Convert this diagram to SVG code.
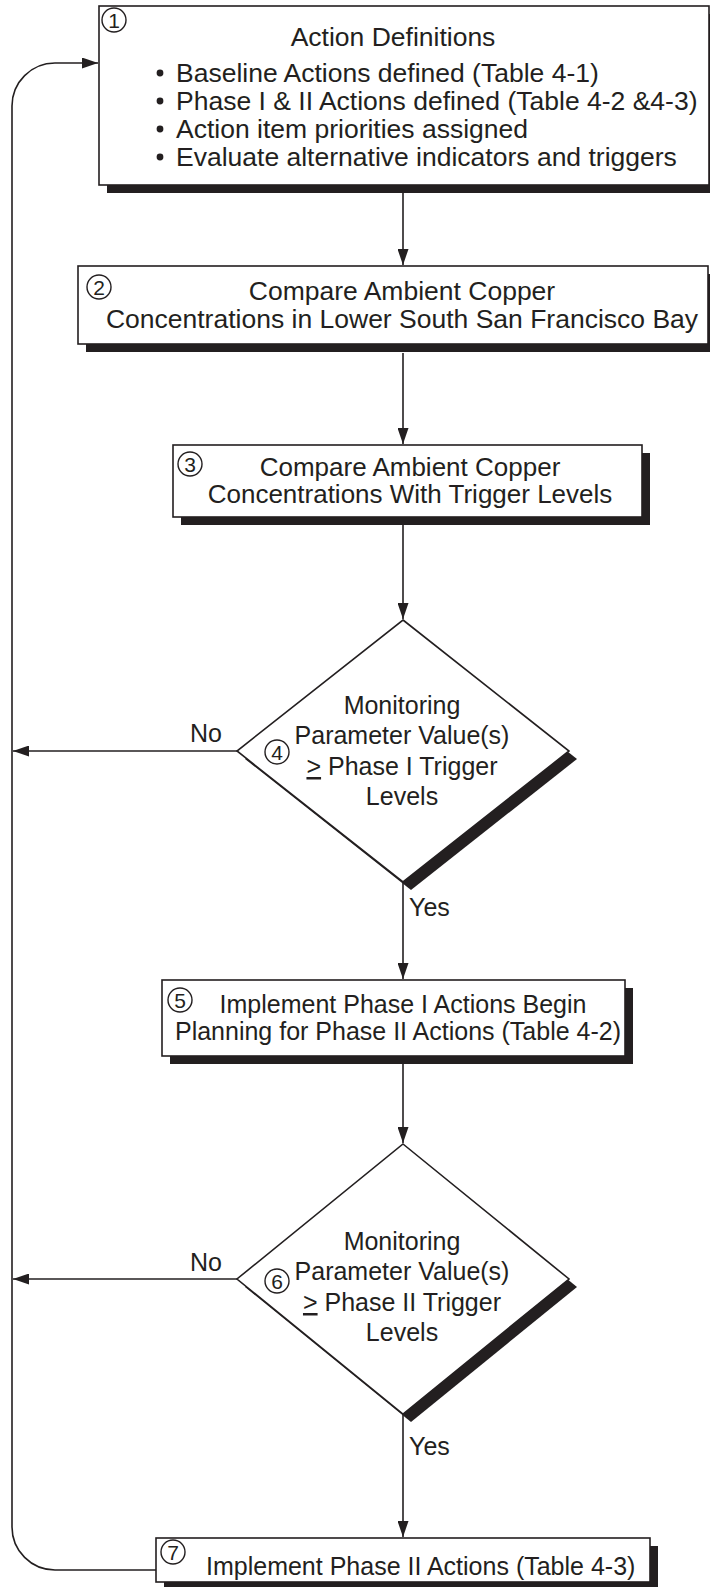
<svg xmlns="http://www.w3.org/2000/svg" width="710" height="1587" viewBox="0 0 710 1587">
<defs>
<style>
.box{fill:#fff;stroke:#231f20;stroke-width:1.6}
.sh{fill:#231f20}
.ln{fill:none;stroke:#231f20;stroke-width:1.6}
.t{font-family:"Liberation Sans",Arial,sans-serif;font-size:25px;fill:#231f20}
.tl{font-size:26.5px}
.tm{font-size:26px}
.c{text-anchor:middle}
.num{font-family:"Liberation Sans",Arial,sans-serif;font-size:21px;fill:#231f20;text-anchor:middle}
.circ{fill:none;stroke:#231f20;stroke-width:1.4}
.dot{fill:#231f20}
</style>
<marker id="ah" markerUnits="userSpaceOnUse" markerWidth="16" markerHeight="11" refX="16" refY="5.5" orient="auto">
<path d="M0,0 L16,5.5 L0,11 z" fill="#231f20"/>
</marker>
</defs>
<rect width="710" height="1587" fill="#fff"/>

<g id="connectors">
<path class="ln" d="M403 193 V265" marker-end="url(#ah)"/>
<path class="ln" d="M403 353 V444" marker-end="url(#ah)"/>
<path class="ln" d="M403 525 V619" marker-end="url(#ah)"/>
<path class="ln" d="M237 751 H13" marker-end="url(#ah)"/>
<path class="ln" d="M403 882 V979" marker-end="url(#ah)"/>
<path class="ln" d="M403 1064 V1143" marker-end="url(#ah)"/>
<path class="ln" d="M237 1279 H13" marker-end="url(#ah)"/>
<path class="ln" d="M403 1414 V1537" marker-end="url(#ah)"/>
<path class="ln" d="M156 1570 H55 A43 43 0 0 1 12 1527 V106 A43 43 0 0 1 55 63 H98" marker-end="url(#ah)"/>
<text class="t" x="190" y="742">No</text>
<text class="t" x="409" y="916">Yes</text>
<text class="t" x="190" y="1271">No</text>
<text class="t" x="409" y="1455">Yes</text>
</g>

<g id="node1">
<rect class="sh" x="107" y="14" width="610" height="179"/>
<rect class="box" x="99" y="6" width="610" height="179"/>
<circle class="circ" cx="114" cy="20" r="12"/>
<text class="num" x="114" y="27.5">1</text>
<text class="t tl c" x="393" y="46">Action Definitions</text>
<circle class="dot" cx="160" cy="73" r="3.4"/>
<text class="t tl" x="176" y="82">Baseline Actions defined (Table 4-1)</text>
<circle class="dot" cx="160" cy="101" r="3.4"/>
<text class="t tl" x="176" y="110">Phase I &amp; II Actions defined (Table 4-2 &amp;4-3)</text>
<circle class="dot" cx="160" cy="129" r="3.4"/>
<text class="t tl" x="176" y="138">Action item priorities assigned</text>
<circle class="dot" cx="160" cy="157" r="3.4"/>
<text class="t tl" x="176" y="166">Evaluate alternative indicators and triggers</text>
</g>

<g id="node2">
<rect class="sh" x="86" y="274" width="630" height="78"/>
<rect class="box" x="78" y="266" width="630" height="78"/>
<circle class="circ" cx="99" cy="287" r="12"/>
<text class="num" x="99" y="294.5">2</text>
<text class="t tl c" x="402" y="300">Compare Ambient Copper</text>
<text class="t tl c" x="402" y="328">Concentrations in Lower South San Francisco Bay</text>
</g>

<g id="node3">
<rect class="sh" x="181" y="453" width="469" height="72"/>
<rect class="box" x="173" y="445" width="469" height="72"/>
<circle class="circ" cx="190" cy="464" r="12"/>
<text class="num" x="190" y="471.5">3</text>
<text class="t tm c" x="410" y="476">Compare Ambient Copper</text>
<text class="t tm c" x="410" y="503">Concentrations With Trigger Levels</text>
</g>

<g id="node4">
<polygon class="sh" points="411,628 577,759 411,890 245,759"/>
<polygon class="box" points="403,620 569,751 403,882 237,751"/>
<circle class="circ" cx="277" cy="752" r="12"/>
<text class="num" x="277" y="759.5">4</text>
<text class="t c" x="402" y="714">Monitoring</text>
<text class="t c" x="402" y="744">Parameter Value(s)</text>
<text class="t c" x="402" y="775"><tspan style="text-decoration:underline">&gt;</tspan> Phase I Trigger</text>
<text class="t c" x="402" y="805">Levels</text>
</g>

<g id="node5">
<rect class="sh" x="170" y="988" width="463" height="76"/>
<rect class="box" x="162" y="980" width="463" height="76"/>
<circle class="circ" cx="180" cy="1000" r="12"/>
<text class="num" x="180" y="1007.5">5</text>
<text class="t c" x="403" y="1013">Implement Phase I Actions Begin</text>
<text class="t c" x="398" y="1040">Planning for Phase II Actions (Table 4-2)</text>
</g>

<g id="node6">
<polygon class="sh" points="411,1152 577,1287 411,1422 245,1287"/>
<polygon class="box" points="403,1144 569,1279 403,1414 237,1279"/>
<circle class="circ" cx="277" cy="1281" r="12"/>
<text class="num" x="277" y="1288.5">6</text>
<text class="t c" x="402" y="1250">Monitoring</text>
<text class="t c" x="402" y="1280">Parameter Value(s)</text>
<text class="t c" x="402" y="1311"><tspan style="text-decoration:underline">&gt;</tspan> Phase II Trigger</text>
<text class="t c" x="402" y="1341">Levels</text>
</g>

<g id="node7">
<rect class="sh" x="164" y="1546" width="494" height="44"/>
<rect class="box" x="156" y="1538" width="494" height="44"/>
<circle class="circ" cx="173" cy="1552" r="12"/>
<text class="num" x="173" y="1559.5">7</text>
<text class="t" x="206" y="1575">Implement Phase II Actions (Table 4-3)</text>
</g>
</svg>
